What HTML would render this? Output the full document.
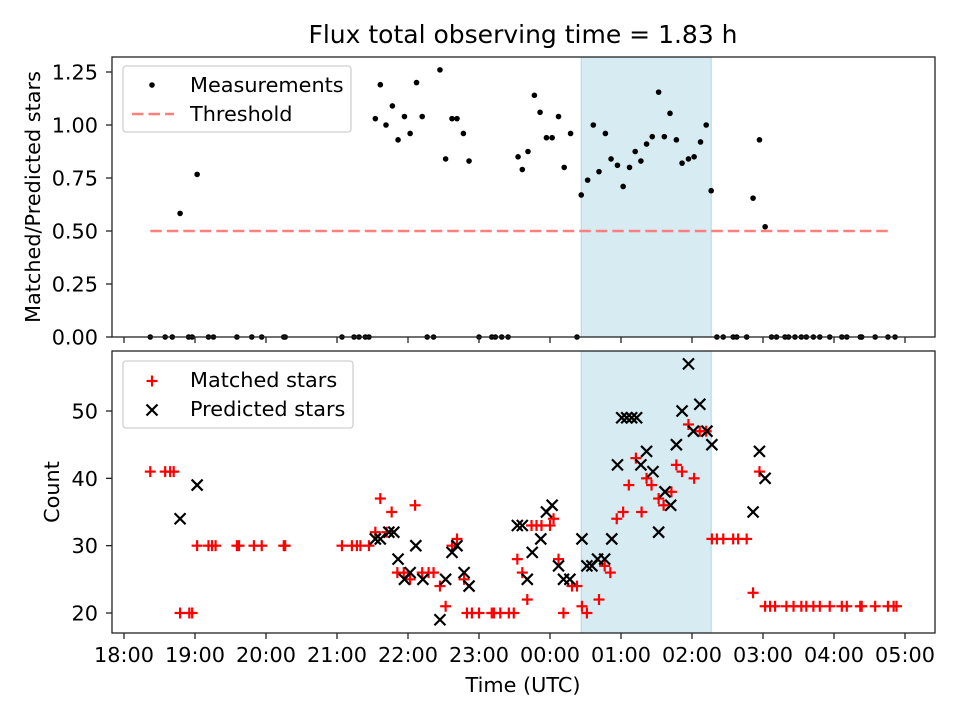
<!DOCTYPE html>
<html><head><meta charset="utf-8"><style>
html,body{margin:0;padding:0;background:#fff;}
svg{display:block;font-family:"DejaVu Sans","Liberation Sans",sans-serif;}
</style></head><body>
<svg id="chart" width="960" height="720" viewBox="0 0 960 720"></svg>
<script>
// ---- data (times in hours after 18:00 UTC) ----
const ratioTimes=[0.79,1.03,3.54,3.61,3.69,3.78,3.86,3.95,4.03,4.12,4.20,4.45,4.53,4.62,4.69,4.78,4.86,5.55,5.61,5.69,5.78,5.86,5.95,6.03,6.12,6.20,6.29,6.44,6.53,6.61,6.69,6.78,6.86,6.95,7.03,7.12,7.20,7.28,7.36,7.44,7.53,7.61,7.69,7.78,7.86,7.95,8.03,8.12,8.20,8.27,8.86,8.95,9.03];
const ratioValues=[0.583,0.767,1.03,1.19,1.0,1.09,0.93,1.04,0.96,1.20,1.04,1.26,0.84,1.03,1.03,0.96,0.83,0.85,0.79,0.875,1.14,1.06,0.94,0.94,1.04,0.80,0.96,0.67,0.74,1.0,0.78,0.96,0.84,0.81,0.71,0.80,0.875,0.83,0.91,0.945,1.155,0.945,1.055,0.93,0.82,0.84,0.85,0.92,1.0,0.69,0.655,0.93,0.52];
const zeroTimes=[0.37,0.58,0.68,0.91,0.96,1.19,1.26,1.59,1.80,1.94,2.25,2.27,3.07,3.24,3.31,3.40,3.45,4.27,4.36,5.00,5.18,5.23,5.32,5.41,6.38,8.35,8.44,8.58,8.63,8.77,9.12,9.19,9.31,9.36,9.45,9.54,9.61,9.71,9.80,9.94,10.11,10.18,10.37,10.39,10.58,10.76,10.86];
const thresholdValue=0.5;
const thresholdRange=[0.37,10.79];
const windowRange=[6.44,8.27];
const matchedTimes=[0.37,0.58,0.65,0.70,0.79,0.92,0.96,1.03,1.19,1.24,1.29,1.59,1.62,1.83,1.94,2.25,2.27,3.07,3.21,3.28,3.33,3.45,3.54,3.61,3.70,3.77,3.85,3.94,4.03,4.10,4.20,4.29,4.36,4.45,4.53,4.62,4.69,4.79,4.83,4.90,5.00,5.18,5.21,5.30,5.42,5.49,5.54,5.61,5.68,5.74,5.81,5.88,6.00,6.05,6.12,6.19,6.31,6.38,6.45,6.52,6.69,6.77,6.85,6.94,7.03,7.11,7.21,7.29,7.36,7.43,7.53,7.60,7.71,7.78,7.86,7.95,8.03,8.11,8.20,8.28,8.35,8.44,8.58,8.65,8.77,8.86,8.95,9.03,9.10,9.17,9.33,9.43,9.54,9.61,9.71,9.80,9.94,10.11,10.18,10.37,10.39,10.58,10.76,10.84,10.88];
const matchedValues=[41,41,41,41,20,20,20,30,30,30,30,30,30,30,30,30,30,30,30,30,30,30,32,37,32,35,26,26,25,36,26,26,26,24,21,30,31,25,20,20,20,20,20,20,20,20,28,26,22,33,33,33,33,34,28,20,24,24,21,20,22,27,26,34,35,39,43,35,40,39,37,36,38,42,41,48,40,47,47,31,31,31,31,31,31,23,41,21,21,21,21,21,21,21,21,21,21,21,21,21,21,21,21,21,21,21];
const predictedTimes=[0.79,1.03,3.54,3.61,3.73,3.80,3.86,3.95,4.03,4.11,4.21,4.45,4.53,4.62,4.69,4.79,4.86,5.54,5.61,5.68,5.75,5.87,5.95,6.03,6.12,6.19,6.28,6.45,6.52,6.59,6.67,6.77,6.87,6.95,7.01,7.08,7.15,7.22,7.28,7.36,7.45,7.53,7.62,7.70,7.78,7.86,7.95,8.02,8.11,8.21,8.28,8.86,8.95,9.03];
const predictedValues=[34,39,31,31,32,32,28,25,26,30,25,19,25,29,30,26,24,33,33,25,29,31,35,36,27,25,25,31,27,27,28,28,31,42,49,49,49,49,42,44,41,32,38,36,45,50,57,47,51,47,45,35,44,40];
const xTickLabels=["18:00","19:00","20:00","21:00","22:00","23:00","00:00","01:00","02:00","03:00","04:00","05:00"];
const topTicks=[0,0.25,0.5,0.75,1.0,1.25];
const bottomTicks=[20,30,40,50];

// ---- geometry ----
const L=112,R=935;
const T1=57,B1=337,T2=351,B2=633;
const FS=20.8;
const DASH='11.5,5';
const xs=h=>124+h*71;
const y1=v=>337-v*212;
const y2=v=>613-(v-20)*6.733;
const NS="http://www.w3.org/2000/svg";
const svg=document.getElementById('chart');
function el(tag,attrs,parent){const e=document.createElementNS(NS,tag);for(const k in attrs)e.setAttribute(k,attrs[k]);(parent||svg).appendChild(e);return e;}
function txt(s,attrs,parent){const e=el('text',attrs,parent);e.textContent=s;return e;}

// title
const title=txt("Flux total observing time = 1.83 h",{x:523,y:43,'text-anchor':'middle','font-size':25,fill:'#000'});



// ---- top panel ----
const gTop=el('g',{});


const sh1=el('rect',{x:xs(windowRange[0]),y:T1,width:xs(windowRange[1])-xs(windowRange[0]),height:B1-T1,fill:'#add8e6','fill-opacity':0.5,stroke:'#add8e6','stroke-width':1},gTop);


const thr=el('line',{x1:xs(thresholdRange[0]),x2:xs(thresholdRange[1]),y1:y1(thresholdValue),y2:y1(thresholdValue),stroke:'#ff7f7f','stroke-width':2.5,'stroke-dasharray':DASH},gTop);


ratioTimes.forEach((t,i)=>{const c=el('circle',{cx:xs(t),cy:y1(ratioValues[i]),r:2.8,fill:'#000'},gTop);

});
zeroTimes.forEach(t=>{const c=el('circle',{cx:xs(t),cy:y1(0),r:2.8,fill:'#000'},gTop);

});
el('rect',{x:L,y:T1,width:R-L,height:B1-T1,fill:'none',stroke:'#222','stroke-width':1.3},gTop);
topTicks.forEach(v=>{const y=y1(v);el('line',{x1:L-6,x2:L,y1:y,y2:y,stroke:'#222','stroke-width':1.3},gTop);
const tl=txt(v.toFixed(2),{x:L-14,y:y+7.5,'text-anchor':'end','font-size':FS},gTop);

});
xTickLabels.forEach((s,i)=>{el('line',{x1:xs(i),x2:xs(i),y1:B1,y2:B1+6,stroke:'#222','stroke-width':1.3},gTop);});
const yl1=txt("Matched/Predicted stars",{x:0,y:0,transform:'translate(40,197) rotate(-90)','text-anchor':'middle','font-size':FS},gTop);


// legend top
const lg1=el('g',{},gTop);


el('rect',{x:123,y:66,width:228,height:66,rx:3,fill:'#fff','fill-opacity':0.8,stroke:'#d0d0d0','stroke-width':1.3},lg1);
el('circle',{cx:152,cy:85,r:2.8,fill:'#000'},lg1);
txt("Measurements",{x:190,y:92,'font-size':FS},lg1);
el('line',{x1:132,x2:174,y1:114,y2:114,stroke:'#ff7f7f','stroke-width':2.5,'stroke-dasharray':DASH},lg1);
txt("Threshold",{x:190,y:121,'font-size':FS},lg1);

// ---- bottom panel ----
const gBot=el('g',{});


const sh2=el('rect',{x:xs(windowRange[0]),y:T2,width:xs(windowRange[1])-xs(windowRange[0]),height:B2-T2,fill:'#add8e6','fill-opacity':0.5,stroke:'#add8e6','stroke-width':1},gBot);


function plus(x,y,p){const g=el('g',{stroke:'#ff0000','stroke-width':2.2},p);el('line',{x1:x-5.5,x2:x+5.5,y1:y,y2:y},g);el('line',{x1:x,x2:x,y1:y-5.5,y2:y+5.5},g);return g;}
function cross(x,y,p){const g=el('g',{stroke:'#000','stroke-width':2.2},p);el('line',{x1:x-5.5,x2:x+5.5,y1:y-5.5,y2:y+5.5},g);el('line',{x1:x-5.5,x2:x+5.5,y1:y+5.5,y2:y-5.5},g);return g;}
matchedTimes.forEach((t,i)=>{const m=plus(xs(t),y2(matchedValues[i]),gBot);

});
predictedTimes.forEach((t,i)=>{const m=cross(xs(t),y2(predictedValues[i]),gBot);

});
el('rect',{x:L,y:T2,width:R-L,height:B2-T2,fill:'none',stroke:'#222','stroke-width':1.3},gBot);
bottomTicks.forEach(v=>{const y=y2(v);el('line',{x1:L-6,x2:L,y1:y,y2:y,stroke:'#222','stroke-width':1.3},gBot);
const tl=txt(String(v),{x:L-14,y:y+7.5,'text-anchor':'end','font-size':FS},gBot);

});
xTickLabels.forEach((s,i)=>{el('line',{x1:xs(i),x2:xs(i),y1:B2,y2:B2+6,stroke:'#222','stroke-width':1.3},gBot);
const tl=txt(s,{x:xs(i),y:662,'text-anchor':'middle','font-size':FS},gBot);

});
const xl=txt("Time (UTC)",{x:523,y:692,'text-anchor':'middle','font-size':FS},gBot);


const yl2=txt("Count",{x:0,y:0,transform:'translate(59,492) rotate(-90)','text-anchor':'middle','font-size':FS},gBot);


const lg2=el('g',{},gBot);


el('rect',{x:123,y:361,width:230,height:67,rx:3,fill:'#fff','fill-opacity':0.8,stroke:'#d0d0d0','stroke-width':1.3},lg2);
plus(152,381,lg2);
txt("Matched stars",{x:190,y:387,'font-size':FS},lg2);
cross(152,410,lg2);
txt("Predicted stars",{x:190,y:416,'font-size':FS},lg2);
</script>
</body></html>
